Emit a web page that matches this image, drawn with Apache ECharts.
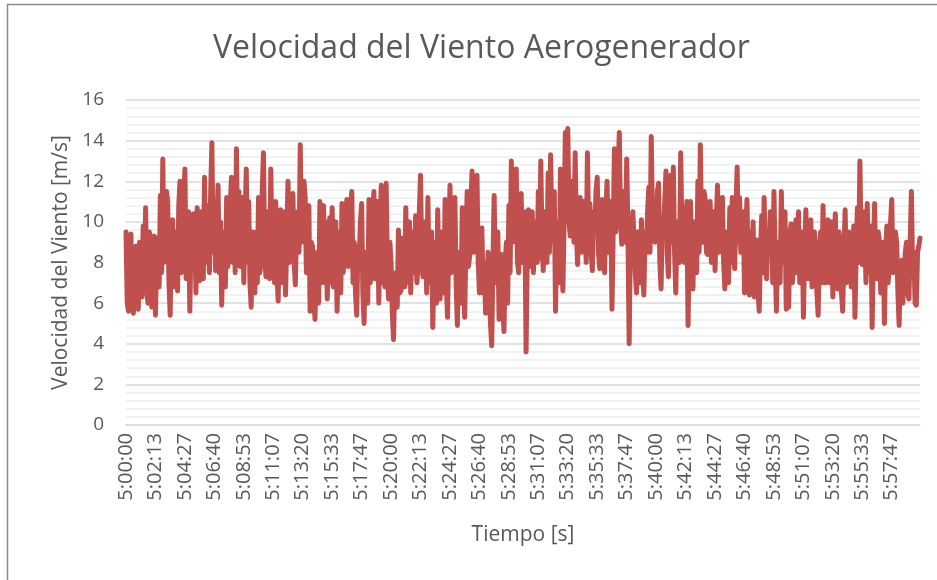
<!DOCTYPE html>
<html>
<head>
<meta charset="utf-8">
<script src="https://cdn.jsdelivr.net/npm/echarts@6/dist/echarts.min.js"></script>
<style>
  html, body { margin: 0; padding: 0; background: #fff; }
  #main { width: 937px; height: 580px; }
</style>
</head>
<body>
<div id="main"></div>
<script>
// velocidad del viento [m/s], muestras cada ~5.6 s desde las 5:00:00
var velocidad = [
  9.5, 6.0, 5.6, 8.9, 9.4, 6.2, 5.5, 8.5, 8.8, 6.0, 5.7, 9.0, 8.6, 6.3, 9.8, 7.0, 10.7, 6.5, 6.0, 9.5,
  9.0, 5.8, 7.2, 9.3, 5.4, 8.2, 9.2, 6.8, 11.3, 7.5, 13.1, 8.0, 9.5, 11.5, 11.0, 7.0, 5.4, 9.8, 10.1, 6.8,
  7.0, 9.5, 6.6, 10.8, 12.0, 7.5, 9.0, 11.0, 12.6, 7.2, 8.5, 10.5, 5.6, 9.2, 8.0, 10.4, 9.8, 6.5, 10.7, 7.8,
  7.1, 10.5, 9.0, 7.2, 12.2, 8.0, 8.2, 10.8, 7.5, 11.5, 13.9, 8.5, 11.0, 7.6, 9.8, 11.8, 7.5, 10.0, 5.9, 9.4,
  9.5, 6.8, 11.2, 7.8, 8.6, 11.0, 12.2, 8.0, 10.0, 7.5, 13.6, 9.0, 11.5, 7.8, 9.0, 11.2, 7.0, 10.0, 12.6, 8.0,

  11.0, 7.0, 5.8, 9.5, 8.5, 6.5, 9.5, 7.0, 11.2, 7.5, 8.0, 11.5, 13.4, 8.5, 7.3, 10.5, 10.0, 7.2, 12.6, 8.5,
  9.5, 7.0, 11.0, 7.5, 6.1, 9.8, 10.6, 7.0, 8.0, 10.5, 6.4, 9.0, 12.0, 8.0, 8.5, 11.0, 11.4, 8.0, 6.9, 10.0,
  10.5, 8.5, 13.8, 9.0, 9.5, 12.0, 11.2, 7.5, 8.3, 10.8, 5.6, 9.0, 8.8, 6.5, 5.2, 8.0, 8.5, 6.0, 11.0, 7.0,
  9.0, 10.8, 7.0, 10.0, 6.2, 9.0, 10.2, 7.0, 10.7, 6.8, 7.5, 10.0, 5.6, 8.5, 9.5, 6.5, 10.9, 7.5, 8.2, 10.5,
  11.1, 7.8, 8.6, 10.8, 11.5, 7.0, 9.0, 6.5, 5.4, 8.8, 8.0, 10.0, 10.9, 6.5, 5.0, 8.5, 8.5, 6.0, 11.1, 7.0,
  7.5, 10.5, 11.5, 7.2, 9.0, 11.0, 6.0, 9.5, 11.8, 7.0,

  10.5, 6.8, 11.9, 7.5, 6.2, 9.0, 8.0, 5.5, 4.2, 7.0, 7.5, 5.8, 9.6, 6.5, 6.6, 9.2, 9.0, 6.8, 10.7, 7.0,
  8.2, 10.0, 6.5, 9.5, 9.5, 7.5, 10.3, 7.0, 7.8, 10.5, 12.3, 8.0, 7.3, 10.0, 9.5, 6.5, 11.2, 7.2, 7.0, 9.5,
  4.8, 8.0, 9.0, 6.0, 10.6, 7.0, 6.2, 9.5, 8.5, 6.5, 11.1, 7.0, 5.3, 9.0, 11.8, 7.5, 8.8, 10.5, 11.2, 7.0,
  4.9, 8.5, 8.5, 6.0, 10.7, 7.0, 5.3, 9.0, 11.5, 7.8, 8.3, 11.0, 12.5, 8.5, 9.0, 11.5, 12.3, 8.0, 6.5, 9.5,
  9.7, 6.5, 8.0, 5.5, 5.8, 8.5, 7.0, 5.0, 3.9, 8.0, 11.3, 7.5, 7.0, 9.5, 5.2, 8.0, 8.4, 6.0, 4.6, 8.0,
  9.0, 6.0, 10.8, 7.5, 13.0, 9.0, 9.5, 12.0, 12.6, 8.0,

  7.5, 10.5, 11.4, 8.0, 8.0, 10.5, 3.6, 8.5, 10.6, 7.8, 8.5, 10.5, 7.5, 9.5, 10.0, 8.0, 11.5, 8.2, 13.0, 9.0,
  7.6, 10.5, 10.5, 8.0, 12.4, 8.5, 13.3, 9.5, 9.0, 11.5, 5.6, 9.5, 10.0, 7.0, 12.6, 8.5, 6.6, 10.0, 14.4, 10.5,
  14.6, 10.0, 9.3, 12.0, 11.5, 9.0, 13.4, 9.5, 7.9, 11.0, 11.2, 8.5, 8.5, 11.0, 10.5, 8.0, 13.4, 9.5, 10.9, 8.5,
  7.6, 10.5, 9.5, 11.5, 12.2, 8.5, 7.7, 10.5, 11.1, 8.0, 7.5, 10.5, 12.0, 8.5, 9.0, 11.0, 5.7, 9.5, 13.6, 9.5,
  10.5, 12.5, 14.4, 10.0, 8.9, 11.5, 11.5, 9.0, 13.1, 9.5, 4.0, 9.0, 8.0, 10.5, 10.5, 7.5, 6.5, 9.5, 9.0, 7.0,
  10.1, 7.5, 6.4, 9.5, 8.5, 10.5, 11.7, 8.5, 14.2, 10.0,

  11.0, 9.0, 9.3, 11.5, 11.9, 8.0, 6.7, 10.0, 9.5, 11.0, 12.5, 8.5, 7.3, 10.5, 12.3, 9.0, 12.7, 8.5, 6.5, 10.0,
  10.0, 8.0, 13.4, 9.5, 10.7, 8.0, 8.6, 11.0, 4.9, 9.0, 11.0, 8.0, 6.7, 10.0, 9.5, 7.5, 12.0, 8.5, 13.8, 9.5,
  9.0, 11.5, 11.1, 8.5, 8.4, 10.5, 11.0, 8.0, 9.0, 10.5, 7.6, 10.0, 11.8, 8.5, 9.5, 11.0, 11.2, 8.0, 6.7, 9.5,
  8.5, 7.0, 10.7, 8.0, 11.2, 8.5, 7.7, 10.5, 12.7, 9.0, 11.2, 8.5, 8.5, 10.5, 6.5, 9.5, 11.1, 7.5, 6.4, 9.5,
  8.0, 10.0, 6.3, 9.0, 9.1, 6.5, 5.6, 8.5, 10.3, 7.5, 11.2, 8.0, 7.2, 9.5, 8.5, 10.5, 10.3, 7.0, 11.5, 8.0,
  5.6, 9.0, 9.0, 7.0, 11.5, 8.0, 8.0, 10.5, 5.7, 9.5,

  5.8, 9.5, 9.9, 7.0, 7.7, 9.5, 10.1, 7.5, 10.5, 7.0, 8.0, 9.5, 5.3, 8.5, 10.6, 7.5, 7.2, 9.8, 10.1, 6.8,
  7.0, 9.5, 8.5, 6.5, 5.4, 8.5, 9.5, 7.0, 10.8, 7.5, 7.0, 9.5, 10.1, 7.0, 8.5, 10.0, 6.3, 9.0, 10.4, 7.2,
  6.7, 9.5, 9.0, 6.5, 5.6, 8.5, 10.6, 7.0, 7.2, 9.5, 9.5, 6.8, 7.0, 9.8, 5.3, 8.5, 10.7, 8.0, 13.0, 9.0,
  7.9, 10.5, 9.5, 7.0, 10.9, 7.5, 7.5, 9.8, 4.8, 8.5, 10.9, 7.5, 7.2, 9.5, 9.0, 6.5, 6.5, 9.0, 5.0, 8.5,
  9.8, 7.0, 8.0, 10.0, 11.1, 7.5, 7.5, 9.5, 9.0, 6.5, 4.9, 8.0, 8.1, 6.0, 6.0, 8.5, 9.0, 6.5, 6.2, 9.0,
  11.5, 7.5, 8.5, 6.0, 5.9, 8.5, 8.8, 9.2
];

var yTicks = [0, 2, 4, 6, 8, 10, 12, 14, 16];
var inicio = 5 * 3600; // 5:00:00
var duracion = 3600;   // una hora
var cadaEtiqueta = 24; // una etiqueta cada 24 muestras (2:13)

function hms(seg) {
  seg = Math.round(seg);
  var h = Math.floor(seg / 3600);
  var m = Math.floor((seg % 3600) / 60);
  var s = seg % 60;
  return h + ":" + (m < 10 ? "0" : "") + m + ":" + (s < 10 ? "0" : "") + s;
}

var tiempos = velocidad.map(function (v, i) {
  return hms(inicio + i * duracion / velocidad.length);
});

var myChart = echarts.init(document.getElementById("main"));
var gris = "#595959";

myChart.setOption({
  animation: false,
  title: {
    text: "Velocidad del Viento Aerogenerador",
    left: 208,
    top: 28,
    textStyle: { color: gris, fontFamily: "Open Sans", fontSize: 32, fontWeight: "normal" }
  },
  graphic: [{
    type: "rect",
    shape: { x: 7.5, y: 4.5, width: 940, height: 590 },
    style: { fill: "none", stroke: "#8c8c8c", lineWidth: 1.5 },
    silent: true
  }],
  grid: { left: 126, right: 17, top: 100, bottom: 155 },
  xAxis: {
    type: "category",
    boundaryGap: false,
    data: tiempos,
    name: "Tiempo [s]",
    nameLocation: "middle",
    nameGap: 100,
    nameTextStyle: { color: gris, fontFamily: "Open Sans", fontSize: 21 },
    axisLine: { show: true, lineStyle: { color: "#d9d9d9", width: 1.5 } },
    axisTick: { show: false },
    axisLabel: {
      interval: cadaEtiqueta - 1,
      rotate: 90,
      margin: 8,
      color: gris,
      fontFamily: "Open Sans",
      fontSize: 20
    },
    splitLine: { show: false }
  },
  yAxis: {
    type: "value",
    min: yTicks[0],
    max: yTicks[yTicks.length - 1],
    interval: 2,
    name: "Velocidad del Viento [m/s]",
    nameLocation: "middle",
    nameGap: 52,
    nameTextStyle: { color: gris, fontFamily: "Open Sans", fontSize: 21 },
    axisLine: { show: false },
    axisTick: { show: false },
    axisLabel: { color: gris, fontFamily: "Open Sans", fontSize: 19, margin: 22 },
    splitLine: { show: true, lineStyle: { color: "#d9d9d9", width: 1.5 } },
    minorTick: { show: false, splitNumber: 5 },
    minorSplitLine: { show: true, lineStyle: { color: "#eeeeee", width: 1.5 } }
  },
  series: [{
    name: "Velocidad",
    type: "line",
    data: velocidad,
    showSymbol: false,
    symbol: "none",
    lineStyle: { color: "#C0504D", width: 5, join: "round", cap: "round" },
    itemStyle: { color: "#C0504D" }
  }]
});
</script>
</body>
</html>
